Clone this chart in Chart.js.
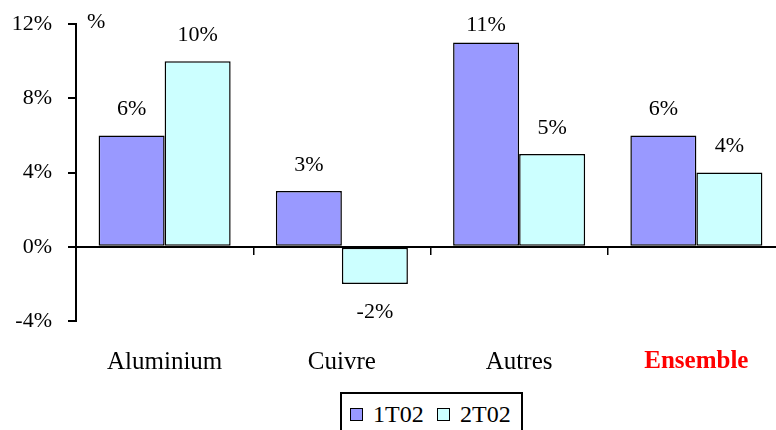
<!DOCTYPE html>
<html>
<head>
<meta charset="utf-8">
<script src="https://cdn.jsdelivr.net/npm/chart.js@4/dist/chart.umd.min.js"></script>
<style>
    html, body { margin: 0; padding: 0; background: #fff; overflow: hidden; }
    #wrap { position: relative; width: 776px; height: 430px; overflow: hidden; }
    #box { position: absolute; left: 0; top: 0; width: 786px; height: 390px; }
    #unit { position: absolute; left: 87px; top: 8px; font: 22px "Liberation Serif", serif; color: #000; }
    #legend {
        position: absolute; left: 340px; top: 392px; width: 179px; height: 50px;
        border: 2px solid #000; box-sizing: content-box;
        font: 24px "Liberation Serif", serif; color: #000;
    }
    #legend .item { position: absolute; top: 7px; white-space: nowrap; }
    #legend .sw { display: inline-block; width: 11px; height: 11px; border: 1px solid #000; margin-right: 10px; vertical-align: 1px; }
</style>
</head>
<body>
<div id="wrap">
    <div id="box"><canvas id="chart"></canvas></div>
    <div id="unit">%</div>
    <div id="legend"></div>
</div>
<script>
const categories = ['Aluminium', 'Cuivre', 'Autres', 'Ensemble'];
const series1Label = '1T02';
const series1 = [6, 3, 11, 6];
const series2Label = '2T02';
const series2 = [10, -2, 5, 4];
const yTicks = [-4, 0, 4, 8, 12];

// value labels above / below each bar (kept inside the plot at the top)
const valueLabels = {
    id: 'valueLabels',
    afterDatasetsDraw(chart) {
        const ctx = chart.ctx;
        const top = chart.chartArea.top + 1;
        ctx.save();
        ctx.font = '22px "Liberation Serif", serif';
        ctx.fillStyle = '#000';
        ctx.textAlign = 'center';
        ctx.textBaseline = 'middle';
        chart.data.datasets.forEach((ds, i) => {
            chart.getDatasetMeta(i).data.forEach((bar, j) => {
                const v = ds.data[j];
                const y = v >= 0 ? Math.max(bar.y - 26, top) : bar.y + 28;
                ctx.fillText(v + '%', bar.x, y);
            });
        });
        ctx.restore();
    }
};

const chart = new Chart(document.getElementById('chart'), {
    type: 'bar',
    data: {
        labels: categories,
        datasets: [{
            label: series1Label,
            data: series1,
            backgroundColor: '#9999FF',
            borderColor: '#000',
            borderWidth: 1.5,
            borderSkipped: false
        }, {
            label: series2Label,
            data: series2,
            backgroundColor: '#CCFFFF',
            borderColor: '#000',
            borderWidth: 1.5,
            borderSkipped: false
        }]
    },
    options: {
        responsive: true,
        maintainAspectRatio: false,
        animation: false,
        categoryPercentage: 0.745,
        barPercentage: 1,
        layout: { padding: { top: 24, right: 1, bottom: 0, left: 0 } },
        plugins: {
            legend: { display: false },
            tooltip: { enabled: false }
        },
        scales: {
            x: {
                position: 'bottom',
                grid: { display: false },
                border: { display: false },
                afterFit: (s) => { s.height = 69; },
                ticks: {
                    maxRotation: 0,
                    padding: 18,
                    color: (c) => c.index === 3 ? '#FF0000' : '#000',
                    font: (c) => ({
                        family: '"Liberation Serif", serif',
                        size: 25,
                        weight: c.index === 3 ? 'bold' : 'normal'
                    })
                }
            },
            x2: {
                type: 'category',
                position: { y: 0 },
                offset: true,
                grid: {
                    offset: true,
                    drawOnChartArea: false,
                    drawTicks: true,
                    tickLength: 7,
                    color: '#000',
                    lineWidth: 1.5
                },
                border: { display: true, color: '#000', width: 2 },
                ticks: { color: 'rgba(0,0,0,0)' }
            },
            y: {
                min: -4,
                max: 12,
                afterFit: (s) => { s.width = 76; s.paddingTop = 0; s.paddingBottom = 0; },
                afterBuildTicks: (s) => { s.ticks = yTicks.map(v => ({ value: v })); },
                grid: {
                    drawOnChartArea: false,
                    drawTicks: true,
                    tickLength: 8,
                    color: '#000',
                    lineWidth: 2
                },
                border: { display: true, color: '#000', width: 2 },
                ticks: {
                    padding: 16,
                    color: '#000',
                    font: { family: '"Liberation Serif", serif', size: 22 },
                    callback: (v) => v + '%'
                }
            }
        }
    },
    plugins: [valueLabels]
});

// legend with a frame, built from the datasets
const legend = document.getElementById('legend');
const legendX = [8, 95];
chart.data.datasets.forEach((ds, i) => {
    const item = document.createElement('span');
    item.className = 'item';
    item.style.left = legendX[i] + 'px';
    item.innerHTML = '<span class="sw" style="background:' + ds.backgroundColor + '"></span>' + ds.label;
    legend.appendChild(item);
});
</script>
</body>
</html>
